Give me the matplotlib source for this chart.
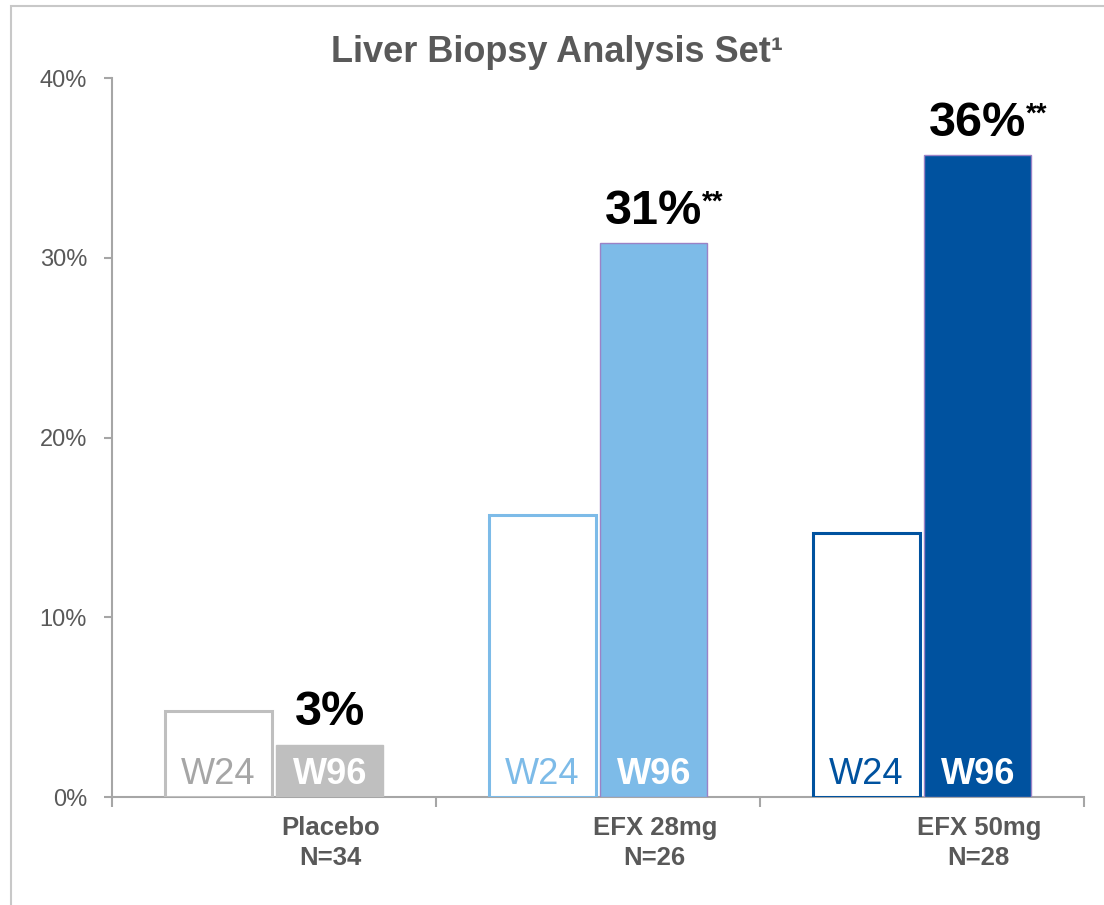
import matplotlib.pyplot as plt
from matplotlib.patches import Rectangle
import numpy as np

plt.rcParams['font.family'] = ['Liberation Sans', 'DejaVu Sans']

# Response rates (%) at week 24 and week 96
groups = ['Placebo\nN=34', 'EFX 28mg\nN=26', 'EFX 50mg\nN=28']
w24 = [4.8, 15.7, 14.7]
w96 = [2.9, 30.8, 35.7]
w96_labels = ['3%', '31%', '36%']
w96_stars = ['', '**', '**']

colors = ['#BFBFBF', '#7DBBE8', '#00529F']
w24_text_colors = ['#A6A6A6', '#7DBBE8', '#00529F']
axis_grey = '#A6A6A6'
text_grey = '#595959'

fig = plt.figure(figsize=(11.04, 9.05), dpi=100)
ax = fig.add_axes([112 / 1104, 108 / 905, 972 / 1104, 719 / 905])

# light frame around the slide panel
fig.patches.append(Rectangle((11 / 1104, -0.05), 1.2, 1.05 - 6 / 905,
                             transform=fig.transFigure, fill=False,
                             edgecolor='#C8C8C8', linewidth=1.5))

x = np.arange(len(groups))
width = 0.33
off = 0.172

for i in range(len(groups)):
    # W24: outlined bar
    ax.bar(x[i] - off, w24[i], width=width, facecolor='white',
           edgecolor=colors[i], linewidth=2.2, zorder=3)
    # W96: filled bar
    edge = colors[i] if i == 0 else '#9B82C6'
    ax.bar(x[i] + off, w96[i], width=width, color=colors[i],
           edgecolor=edge, linewidth=1, zorder=3)

    ax.annotate('W24', (x[i] - off, 0), xytext=(0, 16), textcoords='offset points',
                ha='center', va='center', fontsize=26, color=w24_text_colors[i], zorder=4)
    ax.annotate('W96', (x[i] + off, 0), xytext=(0, 16), textcoords='offset points',
                ha='center', va='center', fontsize=26, fontweight='bold',
                color='white', zorder=4)

    # value label above the W96 bar
    ax.annotate(w96_labels[i], (x[i] + off, w96[i]), xytext=(0, 14),
                textcoords='offset points', ha='center', va='baseline',
                fontsize=35, fontweight='bold', color='black')
    if w96_stars[i]:
        ax.annotate(w96_stars[i], (x[i] + off, w96[i]), xytext=(35, 39),
                    textcoords='offset points', ha='left', va='top',
                    fontsize=20, fontweight='bold', color='black')

ax.set_xlim(-0.5, 2.5)
ax.set_ylim(0, 40)
ax.set_yticks([0, 10, 20, 30, 40])
ax.set_yticklabels(['0%', '10%', '20%', '30%', '40%'])

ax.set_xticks(x + 0.175)
ax.set_xticklabels(groups, fontsize=18.5, fontweight='bold', color=text_grey,
                   linespacing=1.3)
ax.set_xticks([-0.5, 0.5, 1.5, 2.5], minor=True)
ax.tick_params(axis='x', which='major', length=0, pad=14)
ax.tick_params(axis='x', which='minor', length=7, width=1.5, color=axis_grey)
ax.tick_params(axis='y', length=6, width=1.5, color=axis_grey,
               labelsize=17, labelcolor=text_grey, pad=12)

for side in ['top', 'right']:
    ax.spines[side].set_visible(False)
for side in ['left', 'bottom']:
    ax.spines[side].set_color(axis_grey)
    ax.spines[side].set_linewidth(1.5)

fig.text(557 / 1104, 1 - 52 / 905, 'Liver Biopsy Analysis Set\u00b9',
         ha='center', va='center', fontsize=26, fontweight='bold', color=text_grey)

fig.savefig('out.png', dpi=100)
